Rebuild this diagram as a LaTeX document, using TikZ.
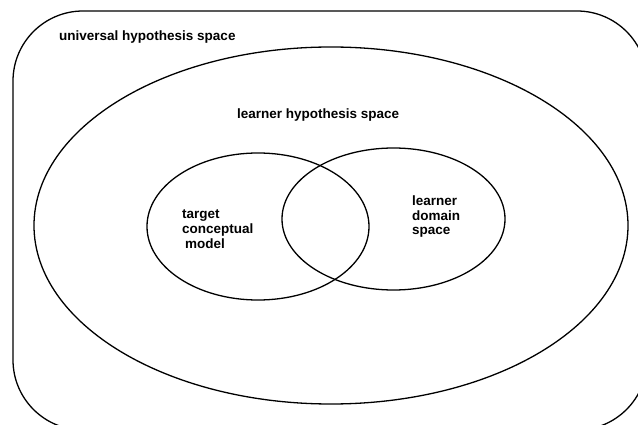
\documentclass[tikz,border=0pt]{standalone}
\usepackage{fontspec}
\setmainfont{Liberation Sans}
\usetikzlibrary{shapes.geometric}
\definecolor{ink}{RGB}{0,0,0}
\tikzset{
  region/.style={draw=ink,line width=1.3pt},
  oval/.style={region,ellipse,inner sep=0pt,minimum width=#1},
  tag/.style={font=\fontsize{13.5}{14.5}\selectfont\bfseries,text=ink,
    inner sep=0pt,align=left,anchor=base west},
}
\begin{document}
\begin{tikzpicture}[x=1pt,y=-1pt]
  \useasboundingbox (0,0) rectangle (638,425);
  \clip (0,0) rectangle (638,425);
  % spaces
  \draw[region,rounded corners=70pt] (13,11) rectangle (647,430);
  \node[oval=594pt,minimum height=357pt] (learnerspace) at (331,225.5) {};
  \node[oval=222pt,minimum height=147pt] (target) at (258,226.5) {};
  \node[oval=223pt,minimum height=142pt] (domain) at (393.5,219) {};
  % labels (base = last line)
  \node[tag] (universallbl) at (59,41) {universal hypothesis space};
  \node[tag] (learnerlbl) at (237,119) {learner hypothesis space};
  \node[tag] (targetlbl) at (182,248) {target\\conceptual\\\hspace{3pt}model};
  \node[tag] (domainlbl) at (412,235) {learner\\domain\\space};
\end{tikzpicture}
\end{document}
